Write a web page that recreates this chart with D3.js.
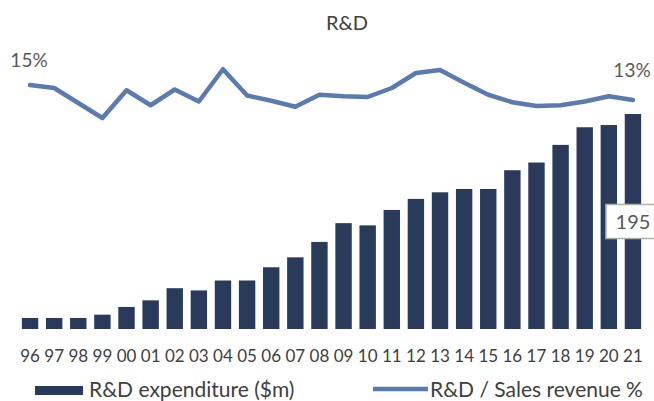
<!DOCTYPE html>
<html>
<head>
<meta charset="utf-8">
<script src="https://cdn.jsdelivr.net/npm/d3@7"></script>
<style>
  html, body { margin: 0; padding: 0; background: #fff; }
  svg { display: block; font-family: Lato, "Open Sans", sans-serif; }
</style>
</head>
<body>
<svg id="chart" width="654" height="401"></svg>
<script>
// Fiscal years (two-digit labels)
const years = ["96","97","98","99","00","01","02","03","04","05","06","07","08",
               "09","10","11","12","13","14","15","16","17","18","19","20","21"];

// R&D expenditure, $m
const rdSpend = [10, 10, 10, 13, 20, 26, 37, 35, 44, 44, 56, 65, 79,
                 96, 94, 108, 118, 124, 127, 127, 144, 151, 167, 183, 185, 195];

// R&D as a share of sales revenue, %
const rdRatio = [15.0, 14.6, 12.6, 10.6, 14.3, 12.3, 14.4, 12.8, 17.1, 13.6, 12.9, 12.1, 13.7,
                 13.5, 13.4, 14.6, 16.6, 17.0, 15.3, 13.7, 12.7, 12.2, 12.3, 12.8, 13.5, 13.0];

const legendItems = ["R&D expenditure ($m)", "R&D / Sales revenue %"];

const barColor = "#2a3a5a";
const lineColor = "#5b7ab0";
const textColor = "#404040";

const svg = d3.select("#chart");

const x = d3.scaleBand().domain(years).range([18, 645]).paddingInner(0.32).paddingOuter(0.16);
const y = d3.scaleLinear().domain([0, 200]).range([329, 108.5]);
const y2 = d3.scaleLinear().domain([10, 18]).range([122.5, 62.5]);

// Title
svg.append("text")
  .attr("x", 347).attr("y", 30)
  .attr("text-anchor", "middle")
  .attr("font-size", 20)
  .attr("fill", textColor)
  .text("R&D");

// Bars
svg.append("g").selectAll("rect")
  .data(years.map((yr, i) => ({ yr, v: rdSpend[i] })))
  .join("rect")
  .attr("x", d => x(d.yr))
  .attr("y", d => y(d.v))
  .attr("width", x.bandwidth())
  .attr("height", d => y(0) - y(d.v))
  .attr("fill", barColor);

// Ratio line
const line = d3.line()
  .x((d, i) => x(years[i]) + x.bandwidth() / 2)
  .y(d => y2(d));

svg.append("path")
  .datum(rdRatio)
  .attr("d", line)
  .attr("fill", "none")
  .attr("stroke", lineColor)
  .attr("stroke-width", 4.5)
  .attr("stroke-linejoin", "round")
  .attr("stroke-linecap", "round");

// Category axis
const xAxis = svg.append("g")
  .attr("transform", `translate(0,${y(0)})`)
  .call(d3.axisBottom(x).tickSize(0).tickPadding(21));
xAxis.select(".domain").remove();
xAxis.selectAll("text")
  .attr("font-family", "Lato, 'Open Sans', sans-serif")
  .attr("font-size", 17)
  .attr("fill", textColor);

// End labels on the ratio line
const first = rdRatio[0], last = rdRatio[rdRatio.length - 1];
svg.append("text")
  .attr("x", 29).attr("y", y2(first) - 18)
  .attr("text-anchor", "middle")
  .attr("font-size", 19).attr("fill", "#595959")
  .text(d3.format(".0f")(first) + "%");
svg.append("text")
  .attr("x", 632).attr("y", y2(last) - 23)
  .attr("text-anchor", "middle")
  .attr("font-size", 19).attr("fill", "#595959")
  .text(d3.format(".0f")(last) + "%");

// Value callout for the latest bar
const lastSpend = rdSpend[rdSpend.length - 1];
const cx = x(years[years.length - 1]) + x.bandwidth() / 2;
const callout = svg.append("g").attr("transform", `translate(${cx},${y(lastSpend / 2)})`);
callout.append("rect")
  .attr("x", -27).attr("y", -17)
  .attr("width", 54).attr("height", 34)
  .attr("fill", "#fff")
  .attr("stroke", "#a9b3a6").attr("stroke-width", 1.5);
callout.append("text")
  .attr("x", 0).attr("y", 7)
  .attr("text-anchor", "middle")
  .attr("font-size", 20).attr("fill", "#595959")
  .text(lastSpend);

// Legend
const legend = svg.append("g");
legend.append("rect")
  .attr("x", 35).attr("y", 386).attr("width", 48).attr("height", 9)
  .attr("fill", barColor);
legend.append("text")
  .attr("x", 89).attr("y", 397)
  .attr("font-size", 21).attr("fill", textColor)
  .text(legendItems[0]);
legend.append("line")
  .attr("x1", 373).attr("x2", 428).attr("y1", 389).attr("y2", 389)
  .attr("stroke", lineColor).attr("stroke-width", 4.5);
legend.append("text")
  .attr("x", 430).attr("y", 397)
  .attr("font-size", 21).attr("fill", textColor)
  .text(legendItems[1]);
</script>
</body>
</html>
